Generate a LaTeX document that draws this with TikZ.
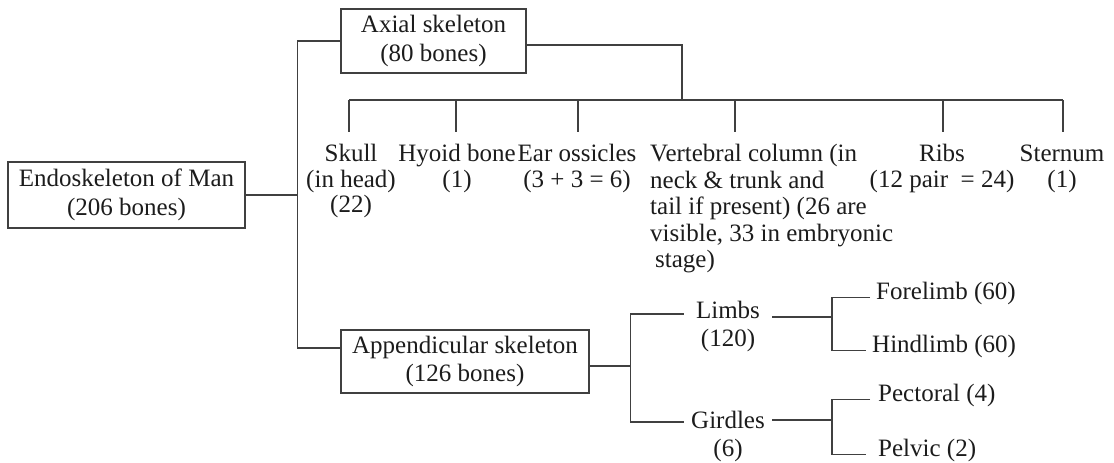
\documentclass[tikz,border=0pt]{standalone}
\usepackage{fontspec}
\setmainfont{Liberation Serif}
\usetikzlibrary{calc}
\definecolor{figink}{RGB}{28,28,28}
\definecolor{figline}{RGB}{64,64,64}

\begin{document}
\begin{tikzpicture}[x=1pt,y=-1pt,text=figink,
  font=\fontsize{25}{25.5}\selectfont]

% canvas
\fill[white] (0,0) rectangle (1114,463);
\useasboundingbox (0,0) rectangle (1114,463);

\tikzset{
  bonebox/.style={
    draw=figline,
    line width=1.3pt,
    inner sep=0pt,
    align=center,
    font=\fontsize{25}{28.5}\selectfont
  },
  part/.style={
    inner sep=0pt,
    align=center,
    anchor=base
  },
  fork/.style={
    inner sep=0pt,
    minimum width=88pt,
    align=center,
    anchor=north,
    font=\fontsize{25}{28.5}\selectfont
  },
  leaf/.style={
    inner xsep=6pt,
    inner ysep=0pt,
    anchor=base west
  },
  link/.style={
    draw=figline,
    line width=1.3pt
  }
}

% main boxes
\node[bonebox,minimum width=237pt,minimum height=66pt] (root) at (126.5,195)
  {Endoskeleton of Man\\(206 bones)};
\node[bonebox,minimum width=185pt,minimum height=64pt] (axial) at (433.5,41)
  {Axial skeleton\\(80 bones)};
\node[bonebox,minimum width=248pt,minimum height=63pt] (appen) at (465,361.5)
  {Appendicular skeleton\\(126 bones)};

% split into axial and appendicular
\path (root.east) ++(52,0) coordinate (spine);
\path (appen.west) ++(0,-13.5) coordinate (appen in);
\draw[link] (root.east) -- (spine);
\draw[link] (axial.west) -| (spine) |- (appen in);

% axial parts — base is the last line (first line at 161.5)
\node[part] (skull) at (351,212.5) {Skull\\(in head)\\(22)};
\node[part] (hyoid) at (457,187) {Hyoid bone\\(1)};
\node[part] (ear) at (577,187) {Ear ossicles\\(3 + 3 = 6)};
\node[part,anchor=base west,align=left,font=\fontsize{25}{26.5}\selectfont] (vert) at (650,267.5)
  {Vertebral column (in\\neck \& trunk and\\tail if present) (26 are\\visible, 33 in embryonic\\\hspace{5pt}stage)};
\node[part] (ribs) at (942,187) {Ribs\\(12 pair~~= 24)};
\node[part] (stern) at (1062,187) {Sternum\\(1)};

% bus and ticks
\coordinate (bus) at (682,100);
\draw[link] ($(axial.east)+(0,4)$) -| (bus);
\foreach \n/\x in {skull/349,hyoid/456,ear/578,vert/735,ribs/943,stern/1063}{
  \coordinate (t-\n) at (\x,132);
  \draw[link] (t-\n |- bus) -- (t-\n);
}
\draw[link] (t-skull |- bus) -- (t-stern |- bus);

% appendicular parts
\node[fork] (limbs) at (728,300.5) {Limbs\\(120)};
\node[fork] (girdles) at (728,410.5) {Girdles\\(6)};
\path (appen.east) ++(41,4.5) coordinate (afork);
\draw[link] (appen.east |- afork) -- (afork);
\draw[link] ([yshift=-13.5pt]limbs.north west) -| (afork)
  |- ([yshift=-11.5pt]girdles.north west);

% limbs and girdles split
\coordinate (lfork) at (832,318);
\coordinate (gfork) at (832,420);
\node[leaf] (fore) at (870,299.5) {Forelimb (60)};
\node[leaf] (hind) at (866,352.5) {Hindlimb (60)};
\node[leaf,inner xsep=8pt] (pect) at (870,401.5) {Pectoral (4)};
\node[leaf,inner xsep=12pt] (pelvic) at (866,456.5) {Pelvic (2)};
\draw[link] ([yshift=-16.5pt]limbs.north east) -- +(60,0);
\draw[link] (fore.mid west) -| (lfork) |- (hind.mid west);
\draw[link] ([yshift=-9.5pt]girdles.north east) -- +(60,0);
\draw[link] (pect.mid west) -| (gfork) |- (pelvic.mid west);

\end{tikzpicture}
\end{document}
